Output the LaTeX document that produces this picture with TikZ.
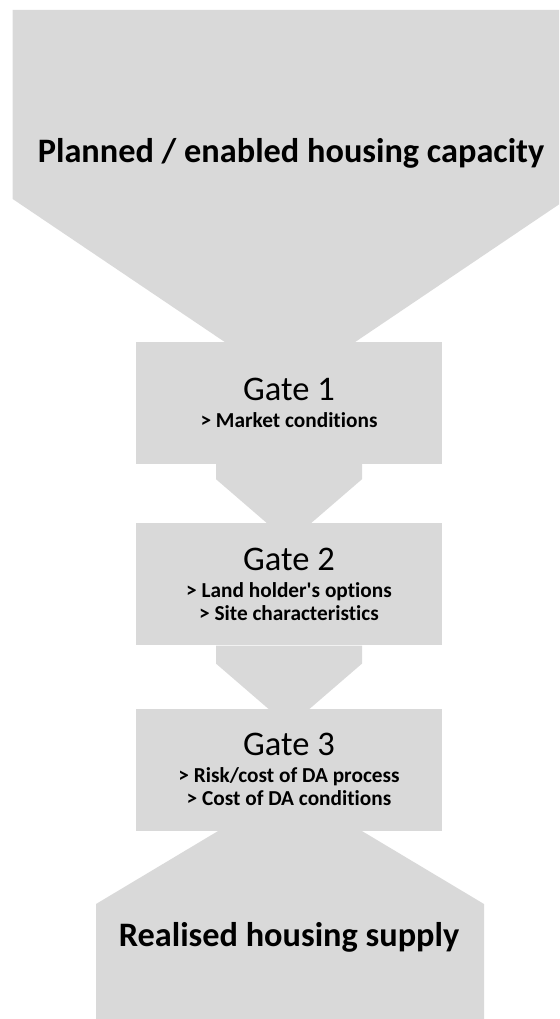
\documentclass[tikz,border=0pt]{standalone}
\usepackage{fontspec}
\setmainfont{Carlito}[Ligatures={NoCommon}]
\usepackage{xcolor}
\usepackage{tikz}
\usetikzlibrary{positioning}

\definecolor{funnelgray}{HTML}{D9D9D9}
\newcommand{\headfont}{\fontsize{34.3}{40}\selectfont\bfseries}
\newcommand{\gatefont}{\fontsize{34.5}{23}\selectfont}
\newcommand{\critfont}{\fontsize{21.3}{23}\selectfont\bfseries}

\begin{document}
\begin{tikzpicture}[x=1pt, y=-1pt,
    gatebox/.style={fill=funnelgray, minimum width=306pt, minimum height=122pt,
                    inner sep=0pt, align=center, font=\gatefont,
                    execute at begin node={\rule{0pt}{28.5pt}}},
    headline/.style={font=\headfont, anchor=base}]
    \useasboundingbox (0,0) rectangle (559,1019);
    \clip (0,0) rectangle (559,1019);

    % top funnel and bottom output
    \fill[funnelgray] (12.7,10) -- (567,10) -- (567,199) -- (290,386) -- (12.7,199) -- cycle;
    \fill[funnelgray] (96,1030) -- (96,904) -- (290,788) -- (484,904) -- (484,1030) -- cycle;
    \node[headline] (capacity) at (291,163) {Planned / enabled housing capacity};
    \node[headline] (supply) at (289,946) {Realised housing supply};

    % gates
    \node[gatebox] (gate1) at (289,403) {Gate 1\\[4pt]{\critfont > Market conditions}};
    \node[gatebox] (gate2) [below=59pt of gate1] {Gate 2\\[4pt]{\critfont > Land holder\textquotesingle s options}\\{\critfont > Site characteristics}};
    \node[gatebox] (gate3) [below=63pt of gate2] {Gate 3\\[4pt]{\critfont > Risk/cost of DA process}\\{\critfont > Cost of DA conditions}};

    % arrows between gates
    \fill[funnelgray] ([xshift=-73pt]gate1.south) -- ++(0,15) -- ++(73,63) -- ++(73,-63) -- ++(0,-15) -- cycle;
    \fill[funnelgray] ([xshift=-73pt]gate2.south) -- ++(0,18) -- ++(73,63) -- ++(73,-63) -- ++(0,-18) -- cycle;
\end{tikzpicture}
\end{document}
